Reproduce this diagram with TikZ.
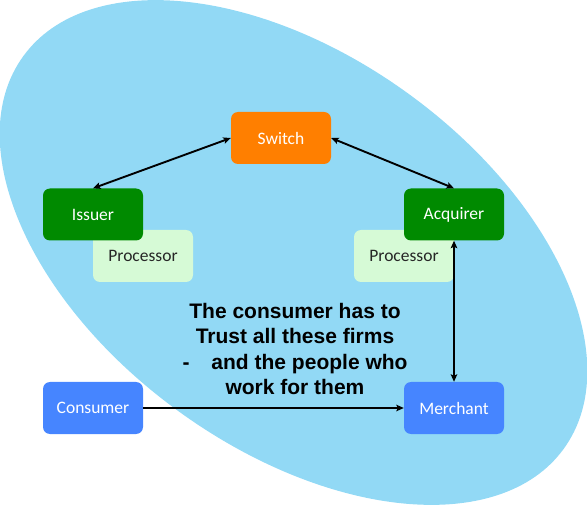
\documentclass[tikz,border=0pt]{standalone}
\usepackage{fontspec}
\setmainfont{Carlito}
\newfontfamily\boldarial{Liberation Sans}
\usetikzlibrary{arrows.meta}
\definecolor{ellcol}{RGB}{146,217,245}
\definecolor{switchcol}{RGB}{255,127,0}
\definecolor{greencol}{RGB}{0,138,0}
\definecolor{proccol}{RGB}{214,250,214}
\definecolor{bluecol}{RGB}{70,133,255}
\tikzset{
  box/.style={rectangle, rounded corners=7pt, minimum width=100pt, minimum height=52pt, inner sep=0pt, font=\fontsize{17.5}{20}\selectfont},
  whitebox/.style={box, text=white},
  procbox/.style={box, fill=proccol, text=black!85},
  conn/.style={line width=1.9pt, -{Stealth[length=7.5pt,width=6.5pt,inset=1.5pt]}},
  dconn/.style={line width=1.9pt, {Stealth[length=7.5pt,width=6.5pt,inset=1.5pt]}-{Stealth[length=7.5pt,width=6.5pt,inset=1.5pt]}}
}
\begin{document}
\begin{tikzpicture}[x=1pt,y=-1pt]
\useasboundingbox (0,0) rectangle (587,505);
\fill[ellcol, shift={(293.5,252.5)}, rotate=-36] (0,0) ellipse [x radius=334pt, y radius=196pt];
\node[procbox] (proc1) at (143,256) {Processor};
\node[procbox] (proc2) at (404,256) {Processor};
\node[whitebox, fill=switchcol] (switch) at (281,138) {Switch};
\node[whitebox, fill=greencol] (issuer) at (93,214.5) {Issuer};
\node[whitebox, fill=greencol] (acquirer) at (454,214.5) {Acquirer};
\node[whitebox, fill=bluecol] (consumer) at (93,408) {Consumer};
\node[whitebox, fill=bluecol] (merchant) at (454,408) {Merchant};
\node[align=center, font=\boldarial\bfseries\fontsize{21}{25.5}\selectfont, inner sep=0pt] (msg) at (295,349)
  {The consumer has to\\Trust all these firms\\-\hspace{22pt}and the people who\\work for them};
\draw[dconn] (switch.west) -- (issuer.north);
\draw[dconn] (switch.east) -- (acquirer.north);
\draw[dconn] (acquirer.south) -- (merchant.north);
\draw[conn] (consumer.east) -- (merchant.west);
\end{tikzpicture}
\end{document}
